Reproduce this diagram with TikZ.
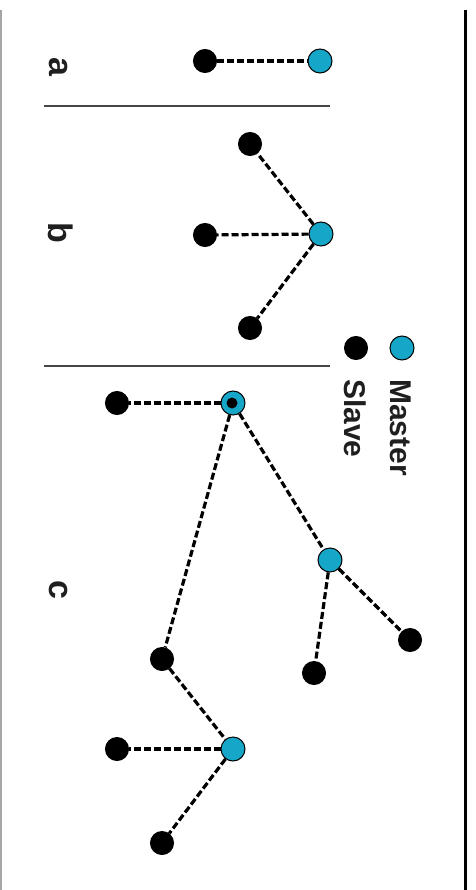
\documentclass[tikz,border=0pt]{standalone}
\usepackage{fontspec}
\setmainfont{Liberation Sans}
\definecolor{mastercyan}{RGB}{22,166,200}
\definecolor{sepgray}{RGB}{70,70,70}
\tikzset{
  master/.style={circle,draw=black,line width=1pt,fill=mastercyan,minimum size=24pt,inner sep=0pt},
  slave/.style={circle,draw=black,line width=1pt,fill=black,minimum size=23pt,inner sep=0pt},
  link/.style={line width=3.2pt,dash pattern=on 7pt off 3pt,black},
  lbl/.style={font=\fontsize{30}{30}\selectfont\bfseries,text=black!88,rotate=-90,inner sep=0pt},
  letter/.style={font=\fontsize{34}{34}\selectfont\bfseries,text=black!88,rotate=-90,inner sep=0pt},
  sep/.style={line width=1.5pt,sepgray},
}
\begin{document}
\begin{tikzpicture}[x=1pt,y=-1pt]
\useasboundingbox (0,0) rectangle (475,890);
% frame
\draw[line width=1.4pt,black!35] (1,10) -- (1,890);
\draw[line width=3pt,black] (465,10) -- (465,890);
% separators
\draw[sep] (44,106) -- (330,106);
\draw[sep] (44,366) -- (330,366);
% panel labels
\node[letter,anchor=base] (la) at (49,67) {a};
\node[letter,anchor=base] (lb) at (48,233) {b};
\node[letter,anchor=base] (lc) at (49,590) {c};
% legend
\node[master] (legm) at (402,348) {};
\node[slave] (legs) at (356,348) {};
\node[lbl,anchor=base west] (tm) at (390,379) {Master};
\node[lbl,anchor=base west] (ts) at (344,379) {Slave};
% panel a
\node[slave] (a1) at (205,61) {};
\node[master] (a0) at (320,61) {};
\draw[link] (a1) -- (a0);
% panel b
\node[master] (b0) at (321,234) {};
\node[slave] (b1) at (250,144) {};
\node[slave] (b2) at (205,235) {};
\node[slave] (b3) at (250,328) {};
\draw[link] (b0) -- (b1);
\draw[link] (b0) -- (b2);
\draw[link] (b0) -- (b3);
% panel c
\node[master] (c0) at (233,403) {};
\node[circle,fill=black,minimum size=11pt,inner sep=0pt] (c0dot) at (232,403) {};
\node[slave] (c1) at (117,403) {};
\node[master] (c2) at (330,560) {};
\node[slave] (c3) at (410,640) {};
\node[slave] (c4) at (314,673) {};
\node[slave] (c5) at (162,659) {};
\node[master] (c6) at (233,749) {};
\node[slave] (c7) at (117,749) {};
\node[slave] (c8) at (162,843) {};
\draw[link] (c0) -- (c1);
\draw[link] (c0) -- (c2);
\draw[link] (c0) -- (c5);
\draw[link] (c2) -- (c3);
\draw[link] (c2) -- (c4);
\draw[link] (c5) -- (c6);
\draw[link] (c6) -- (c7);
\draw[link] (c6) -- (c8);
\end{tikzpicture}
\end{document}
